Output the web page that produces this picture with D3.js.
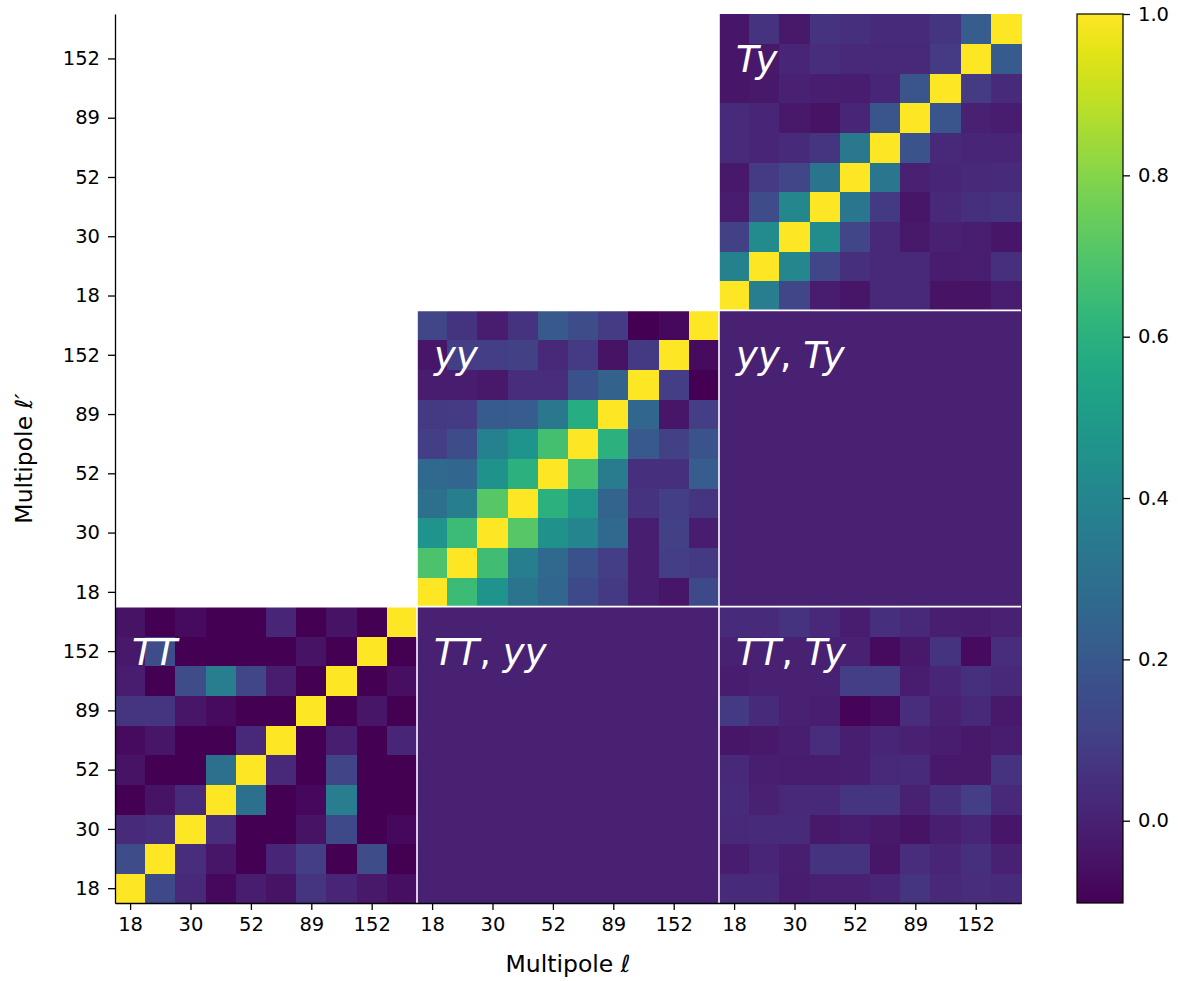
<!DOCTYPE html>
<html>
<head>
<meta charset="utf-8">
<script src="https://cdn.jsdelivr.net/npm/d3@7"></script>
<style>
  html, body { margin: 0; padding: 0; background: #ffffff; }
  svg { display: block; }
  text { font-family: "DejaVu Sans", sans-serif; fill: #000; }
</style>
</head>
<body>
<div id="chart"></div>
<script>
// ---------------- DATA ----------------
// Multipole bin tick labels (shown on every other bin)
const tickLabels = ["18", "30", "52", "89", "152"];
const blockNames = ["TT", "yy", "Ty"];
const colorMin = -0.102;
const colorMax = 1.0;
const colorTicks = [0.0, 0.2, 0.4, 0.6, 0.8, 1.0];

// Each block: rows indexed by ℓ' bin (row 0 = lowest ℓ' = bottom), columns by ℓ bin.
const ttTT = [
  [ 1.00,  0.14,  0.02, -0.08, -0.02, -0.05,  0.07,  0.01, -0.03, -0.06],
  [ 0.15,  1.00,  0.04, -0.04, -0.10,  0.01,  0.10, -0.10,  0.15, -0.10],
  [ 0.03,  0.05,  1.00,  0.04, -0.10, -0.10, -0.05,  0.14, -0.10, -0.08],
  [-0.10, -0.05,  0.03,  1.00,  0.30, -0.10, -0.08,  0.36, -0.10, -0.10],
  [-0.05, -0.10, -0.10,  0.30,  1.00,  0.02, -0.10,  0.12, -0.10, -0.10],
  [-0.07, -0.04, -0.10, -0.10,  0.02,  1.00, -0.10, -0.01, -0.10,  0.01],
  [ 0.07,  0.07, -0.04, -0.07, -0.10, -0.10,  1.00, -0.10, -0.04, -0.10],
  [-0.02, -0.10,  0.15,  0.36,  0.13, -0.02, -0.10,  1.00, -0.10, -0.06],
  [-0.03,  0.15, -0.10, -0.10, -0.10, -0.10, -0.05, -0.10,  1.00, -0.10],
  [-0.05, -0.10, -0.07, -0.10, -0.10,  0.01, -0.10, -0.05, -0.10,  1.00]
];
const yyYY = [
  [ 1.00,  0.65,  0.47,  0.32,  0.26,  0.14,  0.085, -0.01, -0.04,  0.14],
  [ 0.69,  1.00,  0.66,  0.37,  0.27,  0.17,  0.10, -0.01,  0.10,  0.08],
  [ 0.47,  0.65,  1.00,  0.71,  0.45,  0.40,  0.27, -0.01,  0.11, -0.02],
  [ 0.30,  0.37,  0.71,  1.00,  0.60,  0.48,  0.25,  0.06,  0.10,  0.07],
  [ 0.27,  0.26,  0.46,  0.60,  1.00,  0.67,  0.35,  0.05,  0.05,  0.22],
  [ 0.10,  0.15,  0.38,  0.47,  0.67,  1.00,  0.60,  0.20,  0.11,  0.18],
  [ 0.08,  0.09,  0.21,  0.22,  0.34,  0.58,  1.00,  0.26, -0.04,  0.10],
  [-0.02, -0.02, -0.03,  0.04,  0.04,  0.17,  0.24,  1.00,  0.10, -0.10],
  [-0.04,  0.10,  0.10,  0.11,  0.02,  0.09, -0.05,  0.08,  1.00, -0.07],
  [ 0.13,  0.06, -0.02,  0.06,  0.20,  0.15,  0.09, -0.10, -0.08,  1.00]
];
const tyTy = [
  [ 1.00,  0.36,  0.13, -0.02, -0.04,  0.02,  0.02, -0.05, -0.05, -0.02],
  [ 0.38,  1.00,  0.41,  0.13,  0.05,  0.02,  0.02, -0.02, -0.01,  0.05],
  [ 0.11,  0.42,  1.00,  0.43,  0.13,  0.02, -0.03,  0.00, -0.01, -0.04],
  [-0.02,  0.15,  0.41,  1.00,  0.33,  0.08, -0.04,  0.02,  0.05,  0.06],
  [-0.03,  0.09,  0.13,  0.32,  1.00,  0.33,  0.00,  0.01,  0.02,  0.03],
  [ 0.03,  0.01,  0.03,  0.07,  0.34,  1.00,  0.18,  0.02,  0.01,  0.01],
  [ 0.03,  0.01, -0.03, -0.05,  0.01,  0.19,  1.00,  0.19,  0.00, -0.02],
  [-0.04, -0.03,  0.00, -0.01, -0.02,  0.01,  0.19,  1.00,  0.09,  0.03],
  [-0.04, -0.03,  0.01,  0.04,  0.02,  0.02,  0.02,  0.09,  1.00,  0.21],
  [-0.04,  0.06, -0.03,  0.06,  0.05,  0.03,  0.03,  0.07,  0.22,  1.00]
];
const ttTy = [
  [ 0.03,  0.03, -0.02,  0.00,  0.00,  0.01,  0.07,  0.02,  0.04,  0.03],
  [-0.02,  0.01, -0.01,  0.06,  0.06, -0.04,  0.04,  0.01,  0.05,  0.00],
  [ 0.02,  0.03,  0.03, -0.03, -0.02, -0.03, -0.05, -0.01,  0.01, -0.04],
  [ 0.03,  0.00,  0.02,  0.02,  0.07,  0.07,  0.00,  0.05,  0.10,  0.02],
  [ 0.02, -0.01, -0.02, -0.02, -0.01,  0.02,  0.03, -0.03, -0.03,  0.06],
  [-0.04, -0.03, -0.01,  0.04, -0.01,  0.01,  0.00, -0.02, -0.03, -0.02],
  [ 0.08,  0.03,  0.00, -0.01, -0.09, -0.07,  0.04,  0.00,  0.02, -0.03],
  [-0.02,  0.00,  0.00,  0.00,  0.10,  0.10, -0.02,  0.01,  0.05,  0.02],
  [ 0.00,  0.00,  0.00,  0.00,  0.00, -0.07, -0.03,  0.06, -0.07,  0.04],
  [ 0.03,  0.03,  0.06,  0.02, -0.02,  0.05,  0.02, -0.01, -0.02,  0.00]
];
const ttYy = [
  [0,0,0,0,0,0,0,0,0,0],[0,0,0,0,0,0,0,0,0,0],[0,0,0,0,0,0,0,0,0,0],[0,0,0,0,0,0,0,0,0,0],[0,0,0,0,0,0,0,0,0,0],
  [0,0,0,0,0,0,0,0,0,0],[0,0,0,0,0,0,0,0,0,0],[0,0,0,0,0,0,0,0,0,0],[0,0,0,0,0,0,0,0,0,0],[0,0,0,0,0,0,0,0,0,0]
];
const yyTy = [
  [0,0,0,0,0,0,0,0,0,0],[0,0,0,0,0,0,0,0,0,0],[0,0,0,0,0,0,0,0,0,0],[0,0,0,0,0,0,0,0,0,0],[0,0,0,0,0,0,0,0,0,0],
  [0,0,0,0,0,0,0,0,0,0],[0,0,0,0,0,0,0,0,0,0],[0,0,0,0,0,0,0,0,0,0],[0,0,0,0,0,0,0,0,0,0],[0,0,0,0,0,0,0,0,0,0]
];

// block placement (rowBlock = vertical block index from bottom, colBlock = horizontal)
const blocks = [
  { rb: 0, cb: 0, m: ttTT, label: [["TT", true]] },
  { rb: 0, cb: 1, m: ttYy, label: [["TT", true], [", ", false], ["yy", true]] },
  { rb: 0, cb: 2, m: ttTy, label: [["TT", true], [", ", false], ["Ty", true]] },
  { rb: 1, cb: 1, m: yyYY, label: [["yy", true]] },
  { rb: 1, cb: 2, m: yyTy, label: [["yy", true], [", ", false], ["Ty", true]] },
  { rb: 2, cb: 2, m: tyTy, label: [["Ty", true]] }
];

// ---------------- DRAW ----------------
const W = 1178, H = 981;
const L = 115, R = 1021, T = 14, B = 903;
const N = 30, n = 10;

const svg = d3.select("#chart").append("svg").attr("width", W).attr("height", H);
svg.append("rect").attr("width", W).attr("height", H).attr("fill", "#fff");

const x = d3.scaleLinear().domain([0, N]).range([L, R]);
const y = d3.scaleLinear().domain([0, N]).range([B, T]);
const color = d3.scaleSequential(d3.interpolateViridis).domain([colorMin, colorMax]);

const cells = [];
blocks.forEach(b => {
  b.m.forEach((row, i) => row.forEach((v, j) => {
    cells.push({ r: b.rb * n + i, c: b.cb * n + j, v });
  }));
});

svg.append("g").selectAll("rect").data(cells).join("rect")
  .attr("x", d => x(d.c))
  .attr("y", d => y(d.r + 1))
  .attr("width", d => x(d.c + 1) - x(d.c) + 0.5)
  .attr("height", d => y(d.r) - y(d.r + 1) + 0.5)
  .attr("fill", d => color(Math.max(colorMin, Math.min(colorMax, d.v))))
  .attr("shape-rendering", "crispEdges");

// white block separators
const sep = svg.append("g").attr("stroke", "#fff").attr("stroke-width", 1.6);
[n, 2 * n].forEach(k => {
  sep.append("line").attr("x1", x(k)).attr("x2", x(k)).attr("y1", T).attr("y2", B);
  sep.append("line").attr("y1", y(k)).attr("y2", y(k)).attr("x1", L).attr("x2", R);
});

// block labels
blocks.forEach(b => {
  const t = svg.append("text")
    .attr("x", x(b.cb * n) + 17)
    .attr("y", y((b.rb + 1) * n) + 58)
    .attr("font-size", 37)
    .style("fill", "#fff");
  b.label.forEach(([s, it]) => {
    t.append("tspan").attr("font-style", it ? "italic" : "normal").style("fill", "#fff").text(s);
  });
});

// axes
const tickVals = [], tickText = {};
for (let b = 0; b < 3; b++) {
  tickLabels.forEach((lab, k) => {
    const v = b * n + 2 * k + 0.5;
    tickVals.push(v);
    tickText[v] = lab;
  });
}
const fmt = v => tickText[v];

const xAxis = svg.append("g").attr("transform", `translate(0,${B})`)
  .call(d3.axisBottom(x).tickValues(tickVals).tickFormat(fmt).tickSize(7).tickPadding(7).tickSizeOuter(0));
const yAxis = svg.append("g").attr("transform", `translate(${L},0)`)
  .call(d3.axisLeft(y).tickValues(tickVals).tickFormat(fmt).tickSize(7).tickPadding(8).tickSizeOuter(0));

[xAxis, yAxis].forEach(a => {
  a.select(".domain").attr("stroke", "#000").attr("stroke-width", 1.3);
  a.selectAll(".tick line").attr("stroke", "#000").attr("stroke-width", 1.3);
  a.selectAll(".tick text").attr("font-size", 19.5).attr("font-family", "DejaVu Sans").attr("fill", "#000");
});

// axis titles
const xl = svg.append("text").attr("x", (L + R) / 2).attr("y", 972)
  .attr("text-anchor", "middle").attr("font-size", 23.5);
xl.append("tspan").text("Multipole ");
xl.append("tspan").attr("font-style", "italic").text("ℓ");

const yl = svg.append("text").attr("transform", `translate(32,${(T + B) / 2}) rotate(-90)`)
  .attr("text-anchor", "middle").attr("font-size", 23.5);
yl.append("tspan").text("Multipole ");
yl.append("tspan").attr("font-style", "italic").text("ℓ′");

// colorbar
const cbX = 1077, cbW = 46;
const cy = d3.scaleLinear().domain([colorMin, colorMax]).range([B, T]);
const defs = svg.append("defs");
const grad = defs.append("linearGradient").attr("id", "cbgrad")
  .attr("x1", 0).attr("y1", 1).attr("x2", 0).attr("y2", 0);
d3.range(0, 1.0001, 0.02).forEach(t => {
  grad.append("stop").attr("offset", t).attr("stop-color", d3.interpolateViridis(t));
});
svg.append("rect").attr("x", cbX).attr("y", T).attr("width", cbW).attr("height", B - T)
  .attr("fill", "url(#cbgrad)").attr("stroke", "#000").attr("stroke-width", 1.2);
const cAxis = svg.append("g").attr("transform", `translate(${cbX + cbW},0)`)
  .call(d3.axisRight(cy).tickValues(colorTicks).tickFormat(d3.format(".1f")).tickSize(7).tickPadding(8).tickSizeOuter(0));
cAxis.select(".domain").remove();
cAxis.selectAll(".tick line").attr("stroke", "#000").attr("stroke-width", 1.3);
cAxis.selectAll(".tick text").attr("font-size", 19.5).attr("font-family", "DejaVu Sans").attr("fill", "#000");
</script>
</body>
</html>
